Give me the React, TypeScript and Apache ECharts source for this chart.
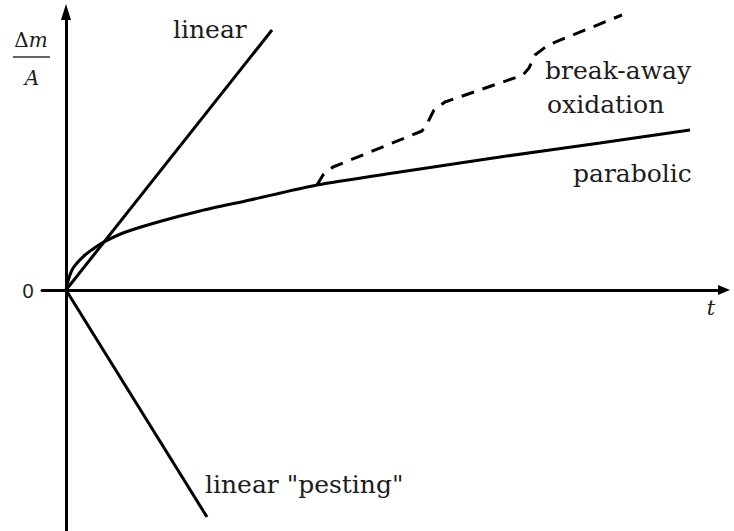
import React, { useEffect, useRef } from "react";
import * as echarts from "echarts";

// Oxidation kinetics sketch: mass change per area (Δm/A) versus time t.
// Coordinates are in arbitrary units with the origin where the axes cross.

const linearX = [0, 20.6];
const linearY = [0, 26.0];

const pestingX = [0, 14.1];
const pestingY = [0, -22.7];

const parabolicX = [0, 0.2, 0.6, 1.1, 1.9, 2.7, 3.6, 5.7, 9.2, 13.4, 18.4, 25.1, 33.4, 43.4, 53.4, 62.4];
const parabolicY = [0, 0.9, 2.0, 2.7, 3.5, 4.1, 4.7, 5.7, 6.8, 7.9, 9.0, 10.5, 11.8, 13.3, 14.7, 16.0];

const breakawayX = [25.1, 25.7, 26.7, 35.6, 36.1, 36.8, 37.9, 45.7, 46.3, 46.9, 48.2, 55.6];
const breakawayY = [10.5, 11.5, 12.3, 15.9, 16.6, 18.0, 18.8, 21.5, 22.2, 23.5, 24.5, 27.5];

const curveLabels = ["linear", "break-away", "oxidation", "parabolic", 'linear "pesting"'];

const zip = (xs: number[], ys: number[]) => xs.map((x, i) => [x, ys[i]]);

const SERIF = "'DejaVu Serif', Georgia, serif";
const INK = "#1c1c1c";

export default function App() {
  const ref = useRef<HTMLDivElement>(null);

  useEffect(() => {
    if (!ref.current) return;
    const chart = echarts.init(ref.current, undefined, { renderer: "svg" });

    const axisCommon = {
      type: "value" as const,
      axisTick: { show: false },
      axisLabel: { show: false },
      splitLine: { show: false },
    };

    const solid = { color: "#000", width: 3 };

    const labelText = (text: string, x: number, y: number) => ({
      type: "text",
      x,
      y,
      style: {
        text,
        font: `25px ${SERIF}`,
        fill: INK,
        verticalAlign: "middle",
        align: "left",
      },
    });

    chart.setOption({
      animation: false,
      backgroundColor: "#fff",
      grid: { left: 42, right: 10, top: 12, bottom: 0 },
      xAxis: {
        ...axisCommon,
        min: -2.4,
        max: 65.8,
        axisLine: {
          onZero: true,
          symbol: ["none", "triangle"],
          symbolSize: [10, 12],
          lineStyle: solid,
        },
      },
      yAxis: {
        ...axisCommon,
        min: -24.1,
        max: 27.8,
        axisLine: {
          onZero: true,
          symbol: ["none", "triangle"],
          symbolSize: [10, 16],
          lineStyle: solid,
        },
      },
      series: [
        {
          name: curveLabels[0],
          type: "line",
          data: zip(linearX, linearY),
          showSymbol: false,
          clip: false,
          lineStyle: solid,
        },
        {
          name: curveLabels[4],
          type: "line",
          data: zip(pestingX, pestingY),
          showSymbol: false,
          clip: false,
          lineStyle: solid,
        },
        {
          name: curveLabels[3],
          type: "line",
          data: zip(parabolicX, parabolicY),
          showSymbol: false,
          smooth: 0.25,
          clip: false,
          lineStyle: solid,
        },
        {
          name: "break-away oxidation",
          type: "line",
          data: zip(breakawayX, breakawayY),
          showSymbol: false,
          clip: false,
          lineStyle: { color: "#000", width: 3, type: [13, 9] },
        },
      ],
      graphic: [
        labelText(curveLabels[0], 173, 29),
        labelText(curveLabels[1], 545, 70),
        labelText(curveLabels[2], 547, 104),
        labelText(curveLabels[3], 573, 173),
        labelText(curveLabels[4], 205, 484),
        {
          type: "text",
          x: 28,
          y: 291,
          style: {
            text: "0",
            font: "20px 'Liberation Sans', Arial, sans-serif",
            fill: INK,
            align: "center",
            verticalAlign: "middle",
          },
        },
        {
          type: "text",
          x: 711,
          y: 308,
          style: {
            text: "t",
            font: `italic 21px ${SERIF}`,
            fill: INK,
            align: "center",
            verticalAlign: "middle",
          },
        },
        {
          type: "text",
          x: 31,
          y: 40,
          style: {
            text: "{n|Δ}{i|m}",
            align: "center",
            verticalAlign: "middle",
            rich: {
              n: { font: `20px ${SERIF}`, fill: INK },
              i: { font: `italic 20px ${SERIF}`, fill: INK },
            },
          },
        },
        {
          type: "line",
          shape: { x1: 13, y1: 57, x2: 50, y2: 57 },
          style: { stroke: "#333", lineWidth: 1.5 },
        },
        {
          type: "text",
          x: 32,
          y: 78,
          style: {
            text: "A",
            font: `italic 20px ${SERIF}`,
            fill: INK,
            align: "center",
            verticalAlign: "middle",
          },
        },
      ],
    });

    return () => chart.dispose();
  }, []);

  return (
    <div
      ref={ref}
      style={{ position: "absolute", left: 0, top: 0, width: 734, height: 531, background: "#fff" }}
    />
  );
}
